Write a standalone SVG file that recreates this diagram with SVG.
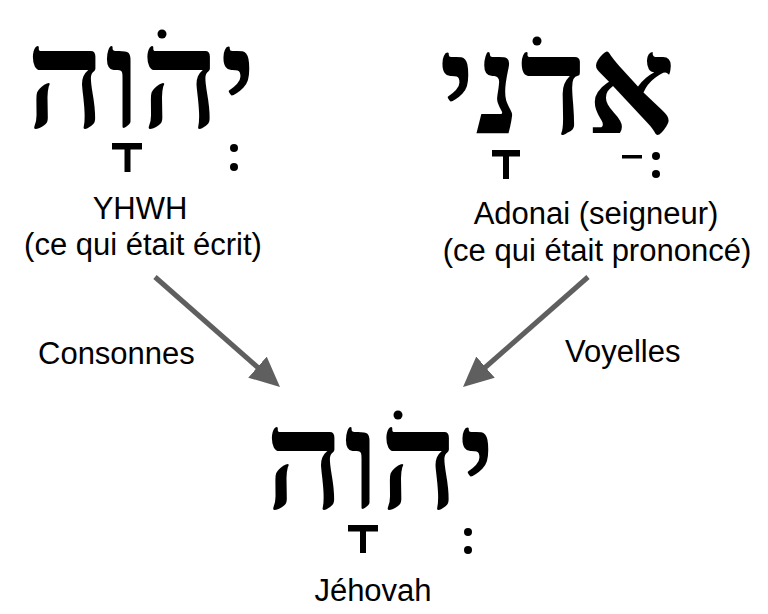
<svg xmlns="http://www.w3.org/2000/svg" width="768" height="614" viewBox="0 0 768 614">
  <defs>
    <style>
      .heb { font-family: "Liberation Serif", "DejaVu Serif", serif; font-weight: bold; font-size: 138px; fill: #000; }
      .lbl { font-family: "Liberation Sans", Arial, sans-serif; font-size: 31px; fill: #000; }
      .mark { fill: #000; }
      .conn { stroke: #5f5f5f; stroke-width: 5; fill: none; }
    </style>
    <marker id="head" markerUnits="userSpaceOnUse" markerWidth="32" markerHeight="30" refX="18" refY="14" orient="auto">
      <path d="M0,0 L30,14 L0,28 z" fill="#5f5f5f"/>
    </marker>
  </defs>
  <rect width="768" height="614" fill="#fff"/>

  <g id="node-yhwh">
    <text class="heb" x="141" y="127" text-anchor="middle">יהוה</text>
    <circle class="mark" cx="162" cy="34" r="4.5"/>
    <rect class="mark" x="112" y="143" width="30" height="6.5"/>
    <rect class="mark" x="124.5" y="143" width="6" height="29"/>
    <circle class="mark" cx="234" cy="148" r="4"/>
    <circle class="mark" cx="234" cy="167" r="4"/>
    <text class="lbl" x="140" y="219" text-anchor="middle">YHWH</text>
    <text class="lbl" x="143" y="255" text-anchor="middle">(ce qui était écrit)</text>
  </g>

  <g id="node-adonai">
    <text class="heb" x="557" y="133" text-anchor="middle">אדני</text>
    <circle class="mark" cx="537" cy="41" r="4.5"/>
    <rect class="mark" x="492" y="150" width="28" height="6.5"/>
    <rect class="mark" x="503" y="150" width="6" height="29"/>
    <rect class="mark" x="622" y="155" width="20" height="3.5"/>
    <circle class="mark" cx="656" cy="156" r="4"/>
    <circle class="mark" cx="656" cy="174" r="4"/>
    <text class="lbl" x="596" y="224" text-anchor="middle">Adonai (seigneur)</text>
    <text class="lbl" x="597" y="261" text-anchor="middle">(ce qui était prononcé)</text>
  </g>

  <g id="node-jehovah">
    <text class="heb" x="380" y="508" text-anchor="middle">יהוה</text>
    <circle class="mark" cx="398" cy="415" r="4.5"/>
    <rect class="mark" x="348" y="525" width="30" height="6.5"/>
    <rect class="mark" x="360" y="525" width="6" height="28"/>
    <circle class="mark" cx="468" cy="532" r="4"/>
    <circle class="mark" cx="468" cy="550" r="4"/>
    <text class="lbl" x="373" y="601" text-anchor="middle">Jéhovah</text>
  </g>

  <g id="connectors">
    <line class="conn" x1="155" y1="277" x2="271" y2="379" marker-end="url(#head)"/>
    <line class="conn" x1="588" y1="277" x2="472" y2="379" marker-end="url(#head)"/>
    <text class="lbl" x="38" y="364">Consonnes</text>
    <text class="lbl" x="565" y="362">Voyelles</text>
  </g>
</svg>
